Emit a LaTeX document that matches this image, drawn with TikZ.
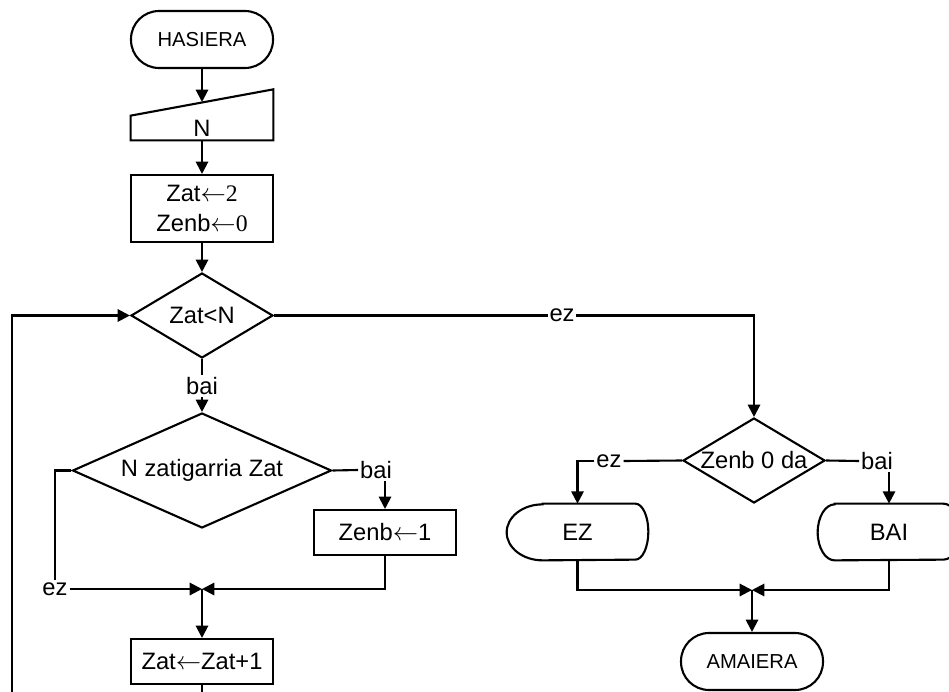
\documentclass[tikz,border=0pt]{standalone}
\usepackage{fontspec}
\setmainfont{Liberation Sans}
\newfontfamily\digitfont{Liberation Serif}
\usetikzlibrary{shapes.geometric,arrows.meta}

\tikzset{
  txt/.style={font=\fontsize{13.5}{15.5}\selectfont},
  base/.style={txt,draw,line width=1.2pt,inner sep=0pt},
  term/.style={base,rectangle,rounded corners=0.56cm,minimum width=2.84cm,minimum height=1.14cm,font=\fontsize{11.5}{13}\selectfont},
  proc/.style={base,rectangle,minimum width=2.84cm,minimum height=0.9cm},
  decide/.style={base,diamond,minimum width=2.84cm,minimum height=1.7cm,shape aspect=1.67},
  hole/.style={txt,inner sep=0pt,minimum width=2.84cm},
  lbl/.style={txt,fill=white,inner sep=1pt},
  wire/.style={line width=1.2pt},
  arr/.style={wire,-{Triangle[length=7pt,width=7pt]}}
}

\begin{document}
\begin{tikzpicture}[x=0.02cm,y=-0.02cm]
\useasboundingbox (0,0) rectangle (949,692);
\clip (0,0) rectangle (949,692);

% left column
\node[term] (start) at (202,39.5) {HASIERA};
\node[hole,minimum height=0.48cm] (inp) at (202,128) {N};
\coordinate (inptop) at (202,102);
\draw[wire] (inp.north west) -- (inp.south west) -- (inp.south east) -- ++(0,-51) -- cycle;
\node[proc,minimum height=1.34cm,align=center,font=\fontsize{13.5}{17}\selectfont] (init) at (202,208.5)
  {Zat$\leftarrow${\digitfont 2}\\Zenb$\leftarrow${\digitfont 0}};
\node[decide] (c1) at (202,315.5) {Zat<N};
\node[lbl] (lb1) at (202,386) {bai};
\node[decide,shape aspect=2.25,minimum width=5.18cm,minimum height=2.3cm] (c2) at (202,470.5) {N zatigarria Zat};
\node[lbl] (lb2) at (376,470) {bai};
\node[lbl] (le2) at (55,589) {ez};
\node[proc] (zb) at (385,532.5) {Zenb$\leftarrow$1};
\coordinate (j1) at (202,589);
\node[proc] (inc) at (202,661.5) {Zat$\leftarrow$Zat+1};
\coordinate (lpb) at (12,720);

% right column
\node[decide] (c3) at (754,460.5) {Zenb 0 da};
\node[lbl] (le3) at (609,461) {ez};
\node[lbl] (lb3) at (877,461) {bai};
\node[hole,minimum width=2.82cm,minimum height=1.12cm] (ez) at (577.5,532) {EZ};
\draw[wire] ([xshift=0.72cm]ez.north west) -- ([xshift=-0.26cm]ez.north east)
  arc[start angle=90,end angle=-90,x radius=0.26cm,y radius=0.56cm]
  -- ([xshift=0.72cm]ez.south west)
  arc[start angle=270,end angle=90,x radius=0.72cm,y radius=0.56cm] -- cycle;
\node[hole,minimum width=2.84cm,minimum height=1.12cm] (bai) at (889,532) {BAI};
\draw[wire] ([xshift=0.34cm]bai.north west) -- ([xshift=-0.34cm]bai.north east)
  arc[start angle=90,end angle=-90,x radius=0.34cm,y radius=0.56cm]
  -- ([xshift=0.34cm]bai.south west)
  arc[start angle=270,end angle=90,x radius=0.34cm,y radius=0.56cm] -- cycle;
\coordinate (j2) at (752,590);
\node[term] (stop) at (752,661.5) {AMAIERA};

% connectors
\draw[arr] (start) -- (inptop);
\draw[arr] (inp.south) -- (init.north);
\draw[arr] (init) -- (c1);
\draw[wire] (c1) -- (lb1);
\draw[arr] (lb1) -- (c2);
\draw[arr] (c1.east) -- node[lbl,pos=0.6] (le1) {ez} (c1.east -| c3.north) -- (c3.north);
\draw[wire] (c2.east) -- (lb2.west);
\draw[arr] (lb2.south -| zb.north) -- (zb.north);
\draw[wire] (c2.west) -| (le2.north);
\draw[arr] (le2.east) -- (j1);
\draw[arr] (zb.south) |- (j1);
\draw[arr] (j1) -- (inc.north);
\draw[arr] (inc.south) |- (lpb) |- (c1.west);
\draw[wire] (c3.west) -- (le3.east);
\draw[arr] (le3.west) -| (ez.north);
\draw[wire] (c3.east) -- (lb3.west);
\draw[arr] (lb3.south -| bai.north) -- (bai.north);
\draw[arr] (ez.south) |- (j2);
\draw[arr] (bai.south) |- (j2);
\draw[arr] (j2) -- (stop.north);
\end{tikzpicture}
\end{document}
